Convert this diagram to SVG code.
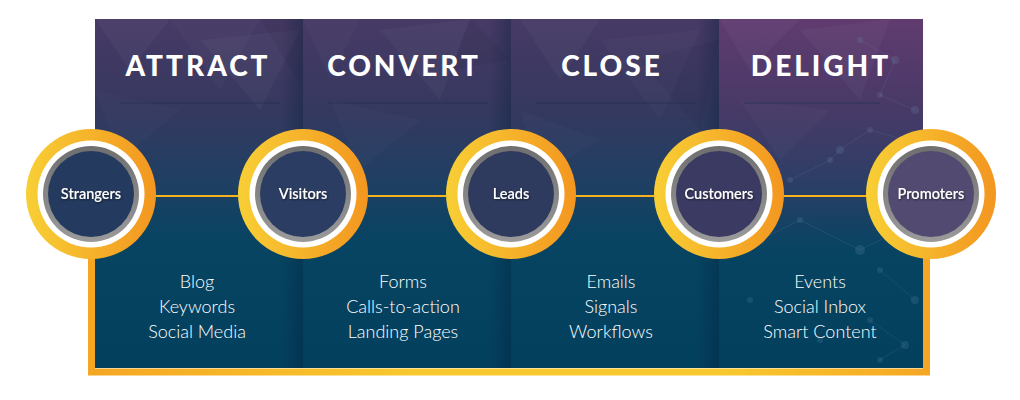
<svg xmlns="http://www.w3.org/2000/svg" width="1020" height="400" viewBox="0 0 1020 400">
<defs>
<linearGradient id="bg" x1="0" y1="0" x2="0" y2="1">
<stop offset="0" stop-color="#473a66"/>
<stop offset="0.25" stop-color="#36385f"/>
<stop offset="0.45" stop-color="#213f63"/>
<stop offset="0.65" stop-color="#064462"/>
<stop offset="1" stop-color="#03405e"/>
</linearGradient>
<linearGradient id="delight" x1="0" y1="0" x2="0" y2="1">
<stop offset="0" stop-color="#7a3c7a" stop-opacity="0.5"/>
<stop offset="0.45" stop-color="#5a3c72" stop-opacity="0.25"/>
<stop offset="0.7" stop-color="#3a3c6a" stop-opacity="0"/>
</linearGradient>
<linearGradient id="shade" x1="0" y1="0" x2="1" y2="0">
<stop offset="0" stop-color="#001a33" stop-opacity="0"/>
<stop offset="1" stop-color="#001a33" stop-opacity="0.3"/>
</linearGradient>
<linearGradient id="gold" x1="0" y1="0" x2="1" y2="0">
<stop offset="0" stop-color="#f8cf35"/>
<stop offset="1" stop-color="#f39620"/>
</linearGradient>
<linearGradient id="frame" gradientUnits="userSpaceOnUse" x1="88" y1="0" x2="930" y2="0">
<stop offset="0" stop-color="#f5a623"/>
<stop offset="0.4" stop-color="#f8c92f"/>
<stop offset="0.75" stop-color="#f8c92f"/>
<stop offset="1" stop-color="#f5a623"/>
</linearGradient>
<linearGradient id="grayring" x1="0" y1="0" x2="0" y2="1">
<stop offset="0" stop-color="#6f6f6f"/>
<stop offset="1" stop-color="#9a9a9a"/>
</linearGradient>
<filter id="ts" x="-20%" y="-50%" width="140%" height="200%">
<feDropShadow dx="0.8" dy="1" stdDeviation="0.8" flood-color="#000" flood-opacity="0.55"/>
</filter>
<clipPath id="panelclip"><rect x="95" y="19" width="828" height="349"/></clipPath>
</defs>
<style>
.head{font-family:"Lato","Liberation Sans",sans-serif;font-weight:900;font-size:28px;fill:#ffffff;letter-spacing:3px;text-anchor:middle}
.item{font-family:"Lato","Liberation Sans",sans-serif;font-weight:300;font-size:18px;fill:#ffffff;text-anchor:middle}
.nlabel{font-family:"Lato","Liberation Sans",sans-serif;font-weight:600;font-size:14.5px;fill:#ffffff;text-anchor:middle}
.goldring{fill:url(#gold)}
.white{fill:#ffffff}
.gray{fill:url(#grayring)}
.conn{stroke:#f7b21f;stroke-width:2.2;fill:none}
.rule{stroke:#1e2f4e;stroke-width:1;opacity:0.6}
.poly{fill:#ffffff}
.dot{fill:#7aa0c0;opacity:0.16}
.net{stroke:#7aa0c0;stroke-width:0.8;opacity:0.16}
</style>

<g id="background">
<rect x="95" y="19" width="828" height="349" fill="url(#bg)"/>
<g clip-path="url(#panelclip)">
<rect x="719" y="19" width="204" height="349" fill="url(#delight)"/>
<polygon class="poly" opacity="0.035" points="95,19 170,19 130,70"/>
<polygon class="poly" opacity="0.025" points="170,19 260,19 220,90"/>
<polygon class="poly" opacity="0.03" points="200,40 300,30 260,110"/>
<polygon class="poly" opacity="0.02" points="95,90 180,110 120,160"/>
<polygon class="poly" opacity="0.025" points="303,19 360,19 330,80"/>
<polygon class="poly" opacity="0.03" points="380,30 470,19 440,100"/>
<polygon class="poly" opacity="0.02" points="330,100 420,120 360,170"/>
<polygon class="poly" opacity="0.03" points="520,19 600,19 560,80"/>
<polygon class="poly" opacity="0.025" points="600,40 700,30 660,120"/>
<polygon class="poly" opacity="0.02" points="520,110 600,140 540,175"/>
<polygon class="poly" opacity="0.035" points="719,19 800,19 750,70"/>
<polygon class="poly" opacity="0.03" points="800,30 890,19 860,100"/>
<polygon class="poly" opacity="0.025" points="740,100 830,110 780,160"/>
<polygon fill="#000" opacity="0.05" points="260,19 303,19 303,90"/>
<polygon fill="#000" opacity="0.05" points="470,19 511,60 450,70"/>
<polygon fill="#000" opacity="0.04" points="640,60 719,40 700,130"/>
<rect x="281" y="19" width="22" height="349" fill="url(#shade)"/>
<rect x="489" y="19" width="22" height="349" fill="url(#shade)"/>
<rect x="697" y="19" width="22" height="349" fill="url(#shade)"/>
<g>
<line class="net" x1="860" y1="40" x2="895" y2="60"/>
<line class="net" x1="895" y1="60" x2="880" y2="95"/>
<line class="net" x1="880" y1="95" x2="915" y2="110"/>
<line class="net" x1="840" y1="150" x2="870" y2="130"/>
<line class="net" x1="870" y1="130" x2="905" y2="140"/>
<line class="net" x1="790" y1="180" x2="830" y2="160"/>
<line class="net" x1="830" y1="160" x2="840" y2="150"/>
<line class="net" x1="760" y1="240" x2="800" y2="220"/>
<line class="net" x1="800" y1="220" x2="860" y2="250"/>
<line class="net" x1="860" y1="250" x2="900" y2="230"/>
<line class="net" x1="880" y1="270" x2="915" y2="300"/>
<line class="net" x1="870" y1="320" x2="905" y2="345"/>
<line class="net" x1="905" y1="345" x2="880" y2="360"/>
<circle class="dot" cx="860" cy="40" r="3"/>
<circle class="dot" cx="895" cy="60" r="4"/>
<circle class="dot" cx="880" cy="95" r="3"/>
<circle class="dot" cx="915" cy="110" r="4"/>
<circle class="dot" cx="870" cy="130" r="3"/>
<circle class="dot" cx="905" cy="140" r="3"/>
<circle class="dot" cx="840" cy="150" r="4"/>
<circle class="dot" cx="830" cy="160" r="3"/>
<circle class="dot" cx="790" cy="180" r="3"/>
<circle class="dot" cx="760" cy="240" r="4"/>
<circle class="dot" cx="800" cy="220" r="3"/>
<circle class="dot" cx="860" cy="250" r="5"/>
<circle class="dot" cx="900" cy="230" r="3"/>
<circle class="dot" cx="880" cy="270" r="3"/>
<circle class="dot" cx="915" cy="300" r="4"/>
<circle class="dot" cx="870" cy="320" r="3"/>
<circle class="dot" cx="905" cy="345" r="4"/>
<circle class="dot" cx="880" cy="360" r="3"/>
<circle class="dot" cx="820" cy="340" r="3"/>
<circle class="dot" cx="750" cy="300" r="3"/>
</g>
</g>
<line class="rule" x1="120" y1="103" x2="280" y2="103"/>
<line class="rule" x1="328" y1="103" x2="488" y2="103"/>
<line class="rule" x1="536" y1="103" x2="696" y2="103"/>
<line class="rule" x1="744" y1="103" x2="880" y2="103"/>
</g>

<g id="frame">
<path d="M91.5,250 V372 H926.5 V250" fill="none" stroke="url(#frame)" stroke-width="7"/>
</g>

<g id="headings">
<text class="head" x="198" y="76">ATTRACT</text>
<text class="head" x="404" y="76">CONVERT</text>
<text class="head" x="612" y="76">CLOSE</text>
<text class="head" x="821" y="76">DELIGHT</text>
</g>

<g id="connectors">
<line class="conn" x1="155" y1="196" x2="239" y2="196"/>
<line class="conn" x1="367" y1="196" x2="447" y2="196"/>
<line class="conn" x1="575" y1="196" x2="655" y2="196"/>
<line class="conn" x1="783" y1="196" x2="867" y2="196"/>
</g>

<g id="node-strangers">
<circle class="goldring" cx="91" cy="194" r="65"/>
<circle class="white" cx="91" cy="194" r="53.5"/>
<circle class="gray" cx="91" cy="194" r="48"/>
<circle cx="91" cy="194" r="43" fill="#243a5e"/>
<text class="nlabel" x="91" y="199" filter="url(#ts)">Strangers</text>
</g>
<g id="node-visitors">
<circle class="goldring" cx="303" cy="194" r="65"/>
<circle class="white" cx="303" cy="194" r="53.5"/>
<circle class="gray" cx="303" cy="194" r="48"/>
<circle cx="303" cy="194" r="43" fill="#2b3d62"/>
<text class="nlabel" x="303" y="199" filter="url(#ts)">Visitors</text>
</g>
<g id="node-leads">
<circle class="goldring" cx="511" cy="194" r="65"/>
<circle class="white" cx="511" cy="194" r="53.5"/>
<circle class="gray" cx="511" cy="194" r="48"/>
<circle cx="511" cy="194" r="43" fill="#2f3b5e"/>
<text class="nlabel" x="511" y="199" filter="url(#ts)">Leads</text>
</g>
<g id="node-customers">
<circle class="goldring" cx="719" cy="194" r="65"/>
<circle class="white" cx="719" cy="194" r="53.5"/>
<circle class="gray" cx="719" cy="194" r="48"/>
<circle cx="719" cy="194" r="43" fill="#3b3a62"/>
<text class="nlabel" x="719" y="199" filter="url(#ts)">Customers</text>
</g>
<g id="node-promoters">
<circle class="goldring" cx="931" cy="194" r="65"/>
<circle class="white" cx="931" cy="194" r="53.5"/>
<circle class="gray" cx="931" cy="194" r="48"/>
<circle cx="931" cy="194" r="43" fill="#524a70"/>
<text class="nlabel" x="931" y="199" filter="url(#ts)">Promoters</text>
</g>

<g id="items">
<text class="item" x="197" y="288">Blog</text>
<text class="item" x="197" y="313">Keywords</text>
<text class="item" x="197" y="338">Social Media</text>
<text class="item" x="403" y="288">Forms</text>
<text class="item" x="403" y="313">Calls-to-action</text>
<text class="item" x="403" y="338">Landing Pages</text>
<text class="item" x="611" y="288">Emails</text>
<text class="item" x="611" y="313">Signals</text>
<text class="item" x="611" y="338">Workflows</text>
<text class="item" x="820" y="288">Events</text>
<text class="item" x="820" y="313">Social Inbox</text>
<text class="item" x="820" y="338">Smart Content</text>
</g>
</svg>
